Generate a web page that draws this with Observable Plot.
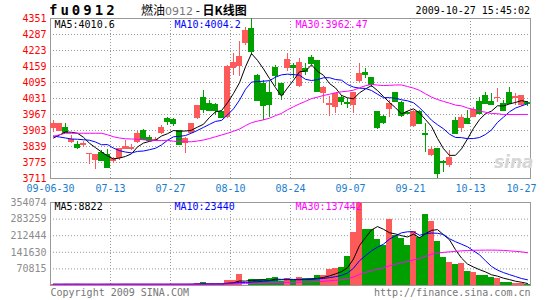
<!DOCTYPE html>
<html><head><meta charset="utf-8">
<script src="https://cdn.jsdelivr.net/npm/d3@7"></script>
<script src="https://cdn.jsdelivr.net/npm/@observablehq/plot@0.6"></script>
<style>
body{margin:0;background:#fff;}
#root{position:relative;width:545px;height:300px;overflow:hidden;background:#fff;font-family:"DejaVu Sans Mono",monospace;}
#root svg{position:absolute;left:0;}
.abs{position:absolute;white-space:nowrap;line-height:1;}
</style></head><body><div id="root"></div>
<script>
const dates = ["06-30","07-01","07-02","07-03","07-06","07-07","07-08","07-09","07-10","07-13","07-14","07-15","07-16","07-17","07-20","07-21","07-22","07-23","07-24","07-27","07-28","07-29","07-30","07-31","08-03","08-04","08-05","08-06","08-07","08-10","08-11","08-12","08-13","08-14","08-17","08-18","08-19","08-20","08-21","08-24","08-25","08-26","08-27","08-28","08-31","09-01","09-02","09-03","09-04","09-07","09-08","09-09","09-10","09-11","09-14","09-15","09-16","09-17","09-18","09-21","09-22","09-23","09-24","09-25","09-28","09-29","09-30","10-09","10-12","10-13","10-14","10-15","10-16","10-19","10-20","10-21","10-22","10-23","10-26","10-27"];
const open  = [3910,3900,3915,3854,3847,3844,3811,3783,3814,3807,3780,3790,3827,3826,3854,3903,3876,3860,3890,3951,3947,3903,3851,3893,3951,4035,4011,4007,3978,3954,4151,4158,4251,4311,4124,4091,4055,4155,4091,4151,4163,4080,4152,4196,4183,4050,4003,3994,4036,4016,4003,4100,4136,4114,3979,3959,3988,4054,4016,3976,3919,3980,3891,3803,3830,3778,3763,3943,3910,3952,3956,4020,4043,4020,4032,4010,4056,4030,4003,4014];
const high  = [3943,3933,3930,3882,3859,3860,3813,3808,3823,3826,3796,3832,3863,3846,3899,3908,3882,3875,3922,3956,3951,3904,3874,3933,4005,4064,4024,4011,3980,4164,4210,4260,4314,4351,4126,4104,4098,4164,4091,4211,4170,4190,4170,4203,4183,4080,4039,4052,4043,4030,4056,4170,4150,4114,3980,3963,4023,4056,4018,3980,3983,3985,3930,3836,3832,3783,3823,3956,3963,3983,3996,4036,4056,4050,4070,4023,4074,4050,4043,4020];
const low   = [3896,3898,3892,3850,3826,3834,3767,3748,3781,3752,3770,3783,3826,3823,3850,3866,3860,3858,3887,3922,3918,3847,3811,3891,3949,3971,3978,3964,3951,3951,4125,4118,4245,4204,4020,3943,3955,4078,4024,4138,4110,4076,4123,4163,4056,4010,3959,3970,4003,3990,3970,4096,4110,4076,3907,3927,3956,4016,3955,3968,3917,3927,3816,3799,3712,3736,3756,3886,3896,3930,3956,3970,4008,4005,4016,3983,4008,4003,4000,4000];
const close = [3932,3931,3896,3867,3834,3851,3812,3807,3783,3754,3790,3830,3839,3836,3892,3867,3863,3866,3916,3939,3931,3848,3871,3931,4002,3988,3984,3984,3954,4160,4174,4198,4304,4218,4024,4002,4007,4122,4047,4188,4156,4175,4138,4170,4060,4076,4010,4050,4020,4013,4056,4130,4127,4087,3914,3936,4012,4021,3963,3972,3980,3930,3888,3826,3732,3775,3796,3890,3956,3930,3986,3970,4010,4007,4036,3983,4010,4040,4043,4012];
const volume = [5200,4800,5600,5000,5400,4700,5100,4600,5300,5800,4900,5200,5500,4800,5600,5100,4700,5300,5000,5700,5200,4900,5400,6000,8000,12000,5200,5000,6000,21200,19800,45200,1500,24000,24000,26800,29700,32500,17000,28300,21200,32500,28300,28300,41000,41000,66400,70700,74900,125800,227500,354074,240200,237400,197800,169600,279800,214800,200600,169600,228900,204900,301000,271300,186500,118700,97500,89000,93300,59300,55100,41000,41000,32500,29700,11300,11300,7100,9900,4200];
const ma5Early  = [3873,3885,3897,3896];
const ma10Early = [3881,3877,3873,3869,3868,3866,3864,3857,3846];
const ma30Early = [3879,3886,3892,3892,3892,3892,3892,3892,3892,3886,3878,3873,3870,3869,3868,3866,3864,3863,3863,3864,3860,3859,3858,3858,3861,3865,3871,3878,3885];
const priceTicks = [3711,3775,3839,3903,3967,4031,4095,4159,4223,4287,4351];
const volTicks = [70815,141630,212444,283259,354074];
const tickDates = ["06-30","07-13","07-27","08-10","08-24","09-07","09-21","10-13","10-27"];
const tickLabels = ["09-06-30","07-13","07-27","08-10","08-24","09-07","09-21","10-13","10-27"];
const priceMALabels = ["MA5:4010.6","MA10:4004.2","MA30:3962.47"];
const volMALabels = ["MA5:8822","MA10:23440","MA30:137442"];
const titleCode = "fu0912";
const stamp = "2009-10-27 15:45:02";

const UP = "#ff5a5a", DOWN = "#00a000";
const MA_COLORS = ["#000000", "#0000ff", "#ff00ff"];
const idx = d3.range(dates.length);
const col = i => close[i] >= open[i] ? UP : DOWN;
function ma(arr, n, early) {
  return idx.map(i => {
    if (i < n - 1) return early ? early[i] : d3.mean(arr.slice(0, i + 1));
    return d3.mean(arr.slice(i - n + 1, i + 1));
  });
}
const pMA = [ma(close, 5, ma5Early), ma(close, 10, ma10Early), ma(close, 30, ma30Early)];
const vMA = [ma(volume, 5), ma(volume, 10), ma(volume, 30)];
const tickIdx = tickDates.map(d => dates.indexOf(d));
const tickPos = tickIdx.map((k, j) => j === 0 ? k - 0.5 : k + 0.5);
const midTicks = d3.range(1, tickDates.length - 1);
const baseStyle = {fontFamily: "DejaVu Sans Mono", fontSize: "10px", background: "transparent", overflow: "visible"};
const grid = {stroke: "#999", strokeOpacity: 1, strokeDasharray: "1,2"};
const labelDx = [4, 124, 245];
const plain = d => String(d);

const price = Plot.plot({
  width: 545, height: 200, marginLeft: 50, marginRight: 15, marginTop: 18, marginBottom: 22,
  style: baseStyle,
  x: {type: "linear", domain: [-0.5, dates.length - 0.5], axis: null},
  y: {domain: [priceTicks[0], priceTicks[priceTicks.length - 1]], axis: null},
  marks: [
    Plot.gridY(priceTicks.slice(1, -1), grid),
    Plot.gridX(midTicks.map(j => tickPos[j]), grid),
    Plot.frame({stroke: "#999"}),
    Plot.axisY(priceTicks, {tickSize: 0, tickPadding: 4, color: "#ff0000", label: null, fontSize: 10, tickFormat: plain}),
    Plot.ruleX(idx, {x: i => i, y1: i => low[i], y2: i => high[i], stroke: col, shapeRendering: "crispEdges"}),
    Plot.rect(idx, {x1: i => i - 0.42, x2: i => i + 0.42, y1: i => open[i], y2: i => close[i], fill: col, shapeRendering: "crispEdges"}),
    Plot.ruleY(idx, {y: i => close[i], x1: i => i - 0.42, x2: i => i + 0.42, stroke: col, shapeRendering: "crispEdges"}),
    ...pMA.map((m, k) => Plot.line(idx, {x: i => i, y: i => m[i], stroke: MA_COLORS[k], strokeWidth: 1})),
    ...priceMALabels.map((t, k) => Plot.text([t], {frameAnchor: "top-left", dx: labelDx[k], dy: 6, text: d => d, fill: MA_COLORS[k], textAnchor: "start", lineAnchor: "middle", fontSize: 10})),
    Plot.text(d3.range(tickDates.length - 1), {x: j => tickPos[j], text: j => tickLabels[j], frameAnchor: "bottom", dy: 10.5, lineAnchor: "middle", fill: "#1a7ccc", fontSize: 10}),
    Plot.text([tickDates.length - 1], {x: j => tickPos[j], text: j => tickLabels[j], frameAnchor: "bottom", dy: 10.5, dx: 6, textAnchor: "end", lineAnchor: "middle", fill: "#1a7ccc", fontSize: 10})
  ]
});
price.style.top = "0px";

const vol = Plot.plot({
  width: 545, height: 110, marginLeft: 50, marginRight: 15, marginTop: 12, marginBottom: 15,
  style: baseStyle,
  x: {type: "linear", domain: [-0.5, dates.length - 0.5], axis: null},
  y: {domain: [0, volTicks[volTicks.length - 1]], axis: null},
  marks: [
    Plot.gridY(volTicks.slice(0, -1), grid),
    Plot.gridX(midTicks.map(j => tickPos[j]), grid),
    Plot.rect(idx, {x1: i => i - 0.42, x2: i => i + 0.42, y1: 0, y2: i => volume[i], fill: col, shapeRendering: "crispEdges"}),
    ...vMA.map((m, k) => Plot.line(idx, {x: i => i, y: i => m[i], stroke: MA_COLORS[k], strokeWidth: 1})),
    Plot.frame({stroke: "#999"}),
    Plot.axisY(volTicks, {tickSize: 0, tickPadding: 4, color: "#8c8c8c", label: null, fontSize: 10, tickFormat: plain}),
    ...volMALabels.map((t, k) => Plot.text([t], {frameAnchor: "top-left", dx: labelDx[k], dy: 4, text: d => d, fill: MA_COLORS[k], textAnchor: "start", lineAnchor: "middle", fontSize: 10})),
    Plot.text(["Copyright 2009 SINA.COM"], {frameAnchor: "bottom-left", dy: 7, text: d => d, fill: "#777", textAnchor: "start", lineAnchor: "middle", fontSize: 10}),
    Plot.text(["http://finance.sina.com.cn"], {frameAnchor: "bottom-right", dy: 7, text: d => d, fill: "#777", textAnchor: "end", lineAnchor: "middle", fontSize: 10})
  ]
});
vol.style.top = "190px";

const root = document.getElementById("root");
root.appendChild(vol);
root.appendChild(price);

function addText(html, css) {
  const el = document.createElement("div");
  el.className = "abs";
  el.innerHTML = html;
  Object.assign(el.style, css);
  root.appendChild(el);
  return el;
}
addText(titleCode, {left: "49px", top: "3px", fontFamily: "DejaVu Sans Mono", fontWeight: "bold", fontSize: "14px", letterSpacing: "3px", color: "#000"});
addText('燃油<span style="color:#777;font-family:\'DejaVu Sans\';font-size:11px">0912</span> - <b>日K线图</b>', {left: "141px", top: "4px", fontFamily: "'Noto Sans CJK SC'", fontSize: "12px", color: "#000"});
addText(stamp, {right: "15px", top: "6px", fontFamily: "DejaVu Sans Mono", fontSize: "10px", color: "#000"});
addText("sina", {left: "494px", top: "154px", fontFamily: "DejaVu Sans", fontStyle: "italic", fontWeight: "bold", fontSize: "17px", color: "#d6d6d6"});
</script></body></html>
